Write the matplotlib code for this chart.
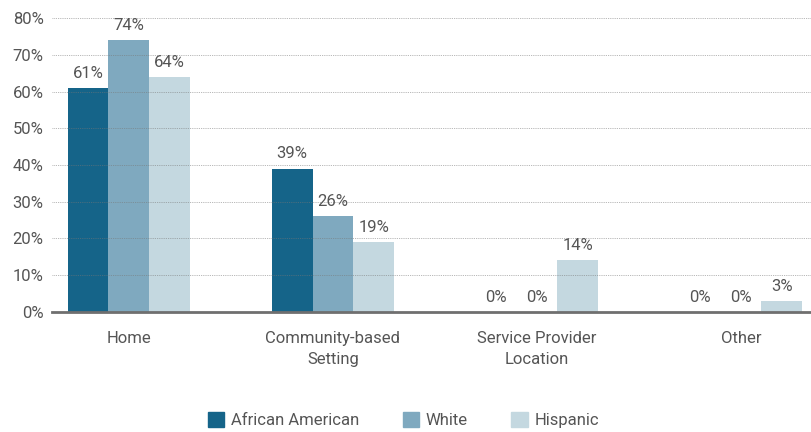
import matplotlib.pyplot as plt
import matplotlib.patches as patches
import numpy as np

# Data
categories = ['Home', 'Community-based\nSetting', 'Service Provider\nLocation', 'Other']
series_names = ['African American', 'White', 'Hispanic']
african_american = [61, 39, 0, 0]
white = [74, 26, 0, 0]
hispanic = [64, 19, 14, 3]
yticks = [0, 10, 20, 30, 40, 50, 60, 70, 80]

colors = ['#156489', '#7fa9bf', '#c4d8e0']
text_color = '#555555'

plt.rcParams['font.family'] = ['Roboto', 'DejaVu Sans']
fs = 12

fig = plt.figure(figsize=(8.12, 4.32), dpi=100)
ax = fig.add_axes([0.064, 0.278, 0.936, 0.680])

x = np.arange(len(categories))
width = 0.2
all_series = [african_american, white, hispanic]
for i, (vals, c, name) in enumerate(zip(all_series, colors, series_names)):
    pos = x + (i - 1) * width
    ax.bar(pos, vals, width, color=c, label=name, zorder=1)
    for p, v in zip(pos, vals):
        ax.text(p, v + 2.0, f'{v}%', ha='center', va='bottom',
                fontsize=fs, color=text_color)

ax.set_xlim(-0.377, 3.348)
ax.set_ylim(0, 80)
ax.set_yticks(yticks)
ax.set_yticklabels([f'{t}%' for t in yticks], fontsize=fs, color=text_color)
ax.set_xticks(x)
ax.set_xticklabels(categories, fontsize=fs, color=text_color, linespacing=1.5)
ax.tick_params(axis='both', length=0)
ax.tick_params(axis='x', pad=14)
ax.tick_params(axis='y', pad=6)

for t in yticks[1:]:
    ax.axhline(t, color='#777777', lw=0.6, ls=(0, (1, 1.2)), alpha=0.7, zorder=2)
ax.axhline(0, color='#6f6f6f', lw=2, zorder=3, clip_on=False)

for s in ax.spines.values():
    s.set_visible(False)

handles = [patches.Rectangle((0, 0), 1, 1, color=c) for c in colors]
fig.legend(handles, series_names, loc='center', bbox_to_anchor=(0.497, 0.028),
           ncol=3, frameon=False, fontsize=fs, handlelength=1.0, handleheight=1.0,
           handletextpad=0.4, columnspacing=2.6, labelcolor=text_color)

plt.savefig('out.png', dpi=100)
plt.close(fig)
